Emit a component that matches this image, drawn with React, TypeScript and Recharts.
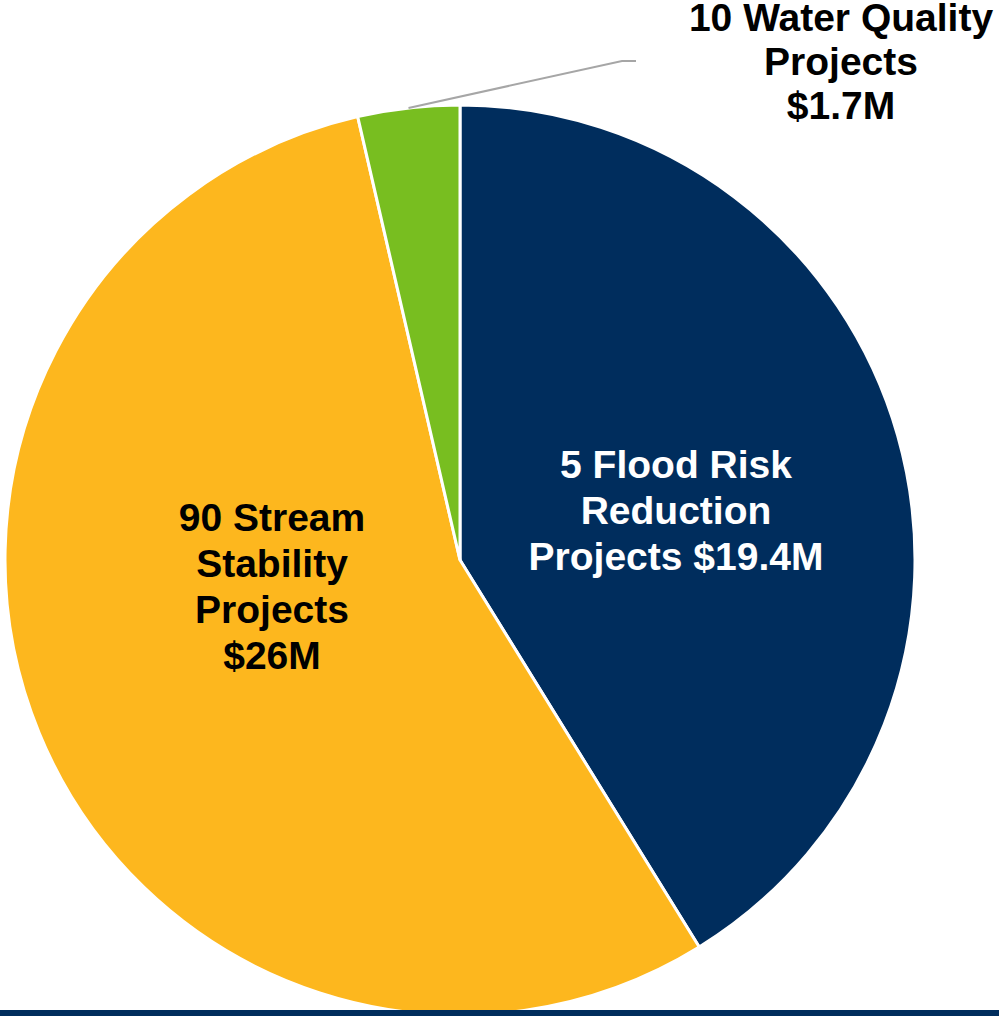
import { Pie, PieChart, Cell } from 'recharts';

const categories = ['Flood Risk Reduction', 'Stream Stability', 'Water Quality'];
const projectCounts = [5, 90, 10];
const fundingMillions = [19.4, 26, 1.7];
const labelLines = [
  ['5 Flood Risk', 'Reduction', 'Projects $19.4M'],
  ['90 Stream', 'Stability', 'Projects', '$26M'],
  ['10 Water Quality', 'Projects', '$1.7M'],
];

const COLORS = ['#002d5d', '#fdb71e', '#78be20'];
const TEXT_COLORS = ['#ffffff', '#000000', '#000000'];
const RADIAN = Math.PI / 180;

const data = categories.map((name, i) => ({
  name,
  count: projectCounts[i],
  value: fundingMillions[i],
  lines: labelLines[i],
}));

// label placement per slice: offset from the pie centre (inside) or leader line (outside)
const labelLayout = [
  { dx: 216, dy: -82, outside: false },
  { dx: -188, dy: -29, outside: false },
  { dx: 381, dy: -529, outside: true },
];

function renderLabel(props: any) {
  const { cx, cy, midAngle, outerRadius, index } = props;
  const layout = labelLayout[index];
  const lines: string[] = data[index].lines;
  const lineH = layout.outside ? 44 : 46;
  const x = cx + layout.dx;
  const y0 = cy + layout.dy;
  const text = (
    <text
      x={x}
      y={y0}
      textAnchor="middle"
      fill={TEXT_COLORS[index]}
      fontFamily="'Liberation Sans', Arial, sans-serif"
      fontWeight="bold"
      fontSize={39}
    >
      {lines.map((l, i) => (
        <tspan key={i} x={x} dy={i === 0 ? 0 : lineH}>
          {l}
        </tspan>
      ))}
    </text>
  );
  if (!layout.outside) return <g key={index}>{text}</g>;
  const sx = cx + outerRadius * Math.cos(-midAngle * RADIAN);
  const sy = cy + outerRadius * Math.sin(-midAngle * RADIAN);
  const ex = x - 205;
  const ey = y0 + 30;
  return (
    <g key={index}>
      <polyline
        points={`${sx},${sy} ${ex - 14},${ey} ${ex},${ey}`}
        fill="none"
        stroke="#a6a6a6"
        strokeWidth={2}
      />
      {text}
    </g>
  );
}

export default function App() {
  return (
    <div style={{ position: 'absolute', top: 0, left: 0, width: 999, height: 1016, background: '#fff', overflow: 'hidden' }}>
      <PieChart width={999} height={1016} margin={{ top: 0, right: 0, bottom: 0, left: 0 }}>
        <Pie
          data={data}
          dataKey="value"
          nameKey="name"
          cx={460}
          cy={560}
          outerRadius={455}
          startAngle={90}
          endAngle={-270}
          stroke="#ffffff"
          strokeWidth={3}
          label={renderLabel}
          labelLine={false}
          isAnimationActive={false}
        >
          {data.map((d, i) => (
            <Cell key={d.name} fill={COLORS[i]} />
          ))}
        </Pie>
      </PieChart>
      <div style={{ position: 'absolute', left: 0, top: 1010, width: 999, height: 6, background: '#002d5d' }} />
    </div>
  );
}
